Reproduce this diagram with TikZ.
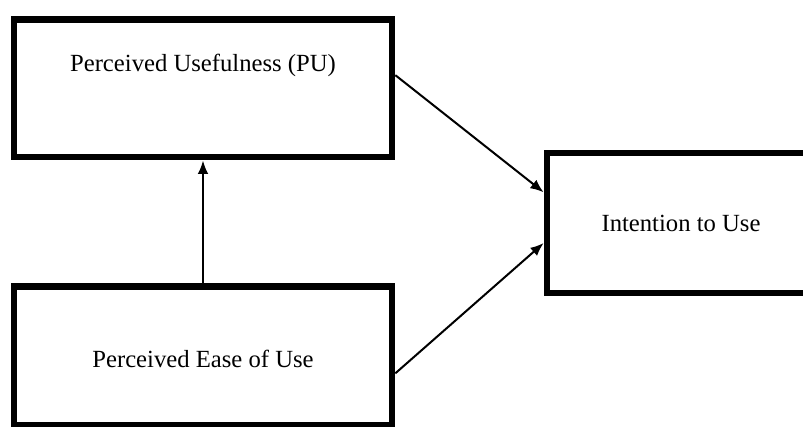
\documentclass[tikz,border=0pt]{standalone}
\usepackage{fontspec}
\setmainfont{Liberation Serif}
\usetikzlibrary{arrows.meta}
\begin{document}
\begin{tikzpicture}[x=0.75pt,y=-0.75pt,
  box/.style={draw,line width=5pt,minimum width=#1,inner sep=0pt},
  boxtext/.style={font=\fontsize{18.5}{22}\selectfont},
  link/.style={line width=1.5pt,-{Latex[length=10pt,width=8pt]}}]
  \useasboundingbox (0,0) rectangle (803,427);
  % Boxes
  \node[box=283.5pt,minimum height=103pt] (pu) at (203,88.5) {};
  \node[box=283.5pt,minimum height=104pt] (peou) at (203,356) {};
  \node[box=201pt,minimum height=105pt] (iu) at (681,223) {};
  % Labels
  \node[boxtext] (putxt) at ([yshift=17pt]pu.center) {Perceived Usefulness (PU)};
  \node[boxtext] (peoutxt) at ([yshift=-2pt]peou.center) {Perceived Ease of Use};
  \node[boxtext] (iutxt) at (iu.center) {Intention to Use};
  % Arrows
  \draw[link] (peou.north) -- (pu.south);
  \draw[link] ([yshift=10pt]pu.east) -- ([yshift=23pt]iu.west);
  \draw[link] ([yshift=-13pt]peou.east) -- ([yshift=-15pt]iu.west);
\end{tikzpicture}
\end{document}
